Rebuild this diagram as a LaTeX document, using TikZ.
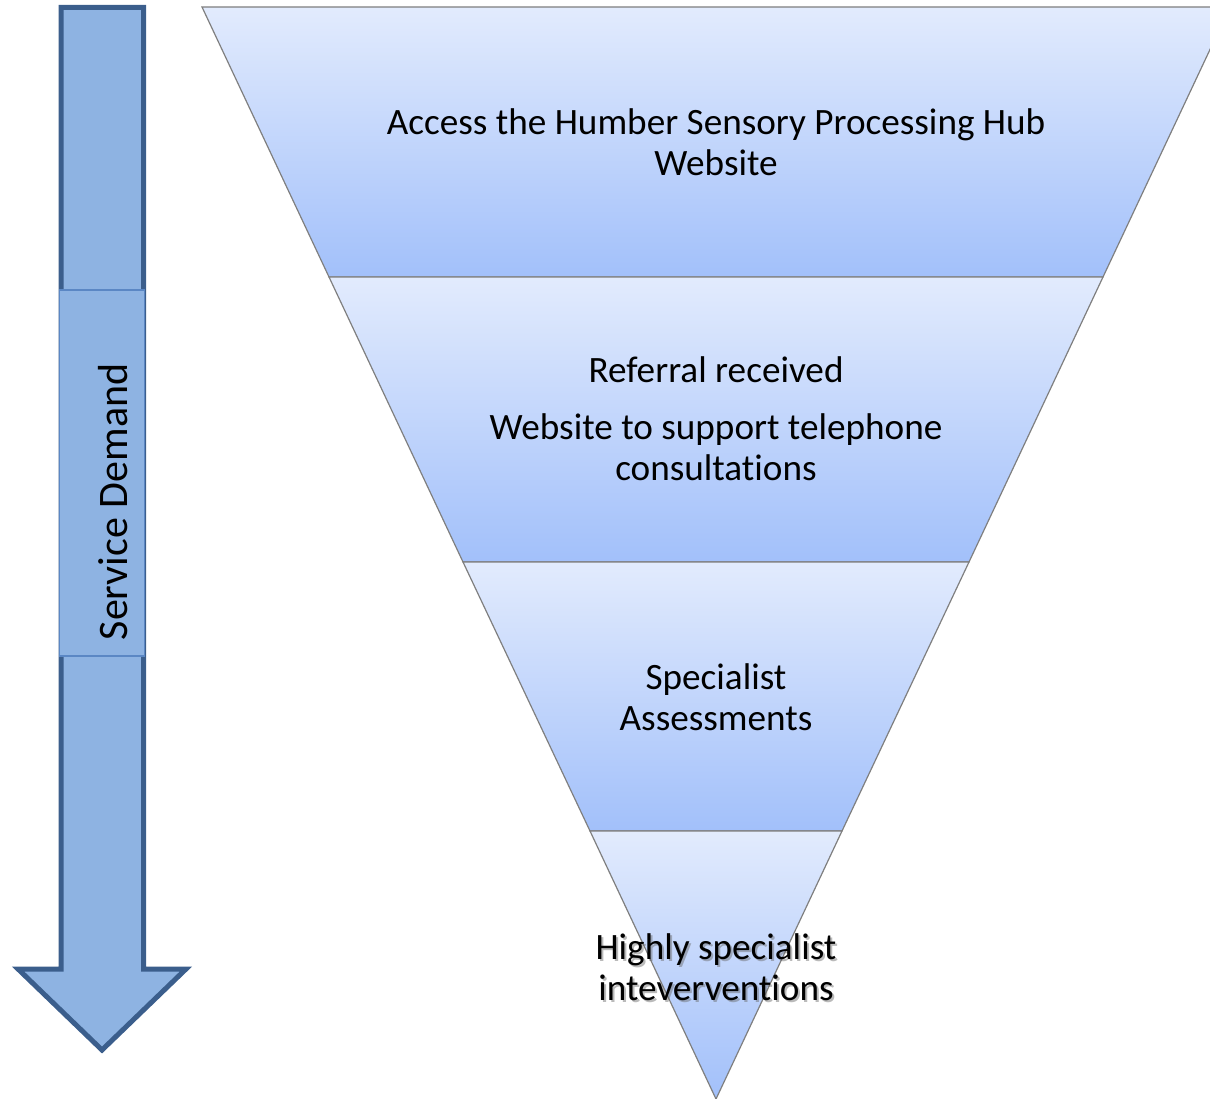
\documentclass[tikz,border=0pt]{standalone}
\usepackage{fontspec}
\setmainfont{Carlito}[Ligatures={NoCommon}]
\definecolor{bandtop}{HTML}{E2EBFD}
\definecolor{bandbot}{HTML}{A2C0FA}
\definecolor{bandline}{HTML}{7F7F7F}
\definecolor{arrowfill}{HTML}{8EB3E2}
\definecolor{arrowline}{HTML}{3B5E8C}
\definecolor{boxline}{HTML}{5B87C4}
\tikzset{
  band/.style={top color=bandtop, bottom color=bandbot, draw=bandline, line width=1.2pt, line join=miter},
  bandtext/.style={align=center, font=\fontsize{37.2}{41}\selectfont, text=black, inner sep=0pt},
  shadowtext/.style={align=center, font=\fontsize{37.2}{41}\selectfont, text=black!60, opacity=0.45, inner sep=0pt},
}
\begin{document}
\begin{tikzpicture}[x=1pt,y=-1pt]
\useasboundingbox (0,0) rectangle (1210,1099);
\begin{scope}
\clip (0,0) rectangle (1210,1099);
% funnel bands
\draw[band] (202,7) -- (1230,7) -- (1103,277) -- (329,277) -- cycle;
\draw[band] (329,277) -- (1103,277) -- (969,562) -- (463,562) -- cycle;
\draw[band] (463,562) -- (969,562) -- (842,831) -- (590,831) -- cycle;
\draw[band] (590,831) -- (842,831) -- (716,1099) -- cycle;
\end{scope}
% texts
\node[bandtext] (t1) at (716,142) {Access the Humber Sensory Processing Hub\\Website};
\node[bandtext] (t2) at (716,419) {Referral received\\[16pt]Website to support telephone\\consultations};
\node[bandtext] (t3) at (716,697) {Specialist\\Assessments};
\node[shadowtext] (t4s) at (718,969) {Highly specialist\\inteverventions};
\node[bandtext] (t4) at (716,967) {Highly specialist\\inteverventions};
% service demand arrow
\draw[fill=arrowfill, draw=arrowline, line width=5pt, line join=miter]
  (61,7.5) -- (143.5,7.5) -- (143.5,969) -- (186,969) -- (102,1050) -- (18,969) -- (61,969) -- cycle;
\node[draw=boxline, fill=arrowfill, line width=1.5pt, minimum width=85pt, minimum height=366pt, inner sep=0pt] (sdbox) at (102,473) {};
\node[rotate=90, font=\fontsize{42}{48}\selectfont, inner sep=0pt] (sd) at (113,502) {Service Demand};
\end{tikzpicture}
\end{document}
